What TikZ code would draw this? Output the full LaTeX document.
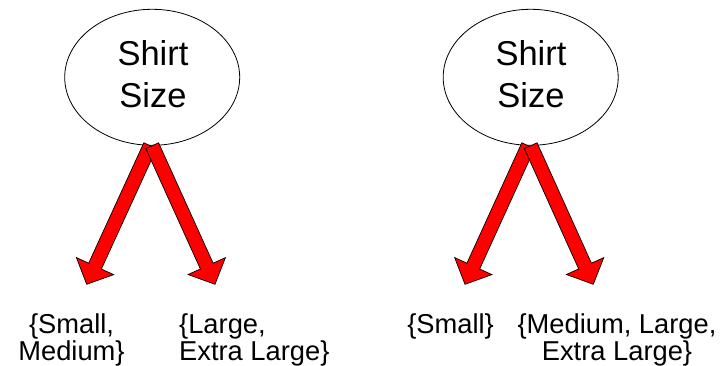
\documentclass[tikz,border=0pt]{standalone}
\usepackage{fontspec}
\setmainfont{Liberation Sans}
\usetikzlibrary{shapes.geometric,calc}
\tikzset{
  bubble/.style={ellipse, draw=black, fill=white, line width=0.8pt,
    minimum width=175pt, minimum height=136pt, inner sep=0pt},
  bigtxt/.style={font=\fontsize{34.5}{42}\selectfont, inner sep=0pt, anchor=base},
  lbl/.style={font=\fontsize{27.3}{27}\selectfont, inner sep=0pt, anchor=base},
  barrow/.style={fill=red, draw=black, line width=0.7pt, line join=miter},
}
\newcommand\blkarrow[2]{%
  \coordinate (hb) at ($(#2)!20pt!(#1)$);
  \draw[barrow] ($(#1)!7pt!90:(#2)$) -- ($(hb)!7pt!90:(#2)$)
    -- ($(hb)!20.5pt!90:(#2)$) -- (#2) -- ($(hb)!20.5pt!-90:(#2)$)
    -- ($(hb)!7pt!-90:(#2)$) -- ($(#1)!7pt!-90:(#2)$) -- cycle;
}
\begin{document}
\begin{tikzpicture}[x=1pt,y=-1pt]
\useasboundingbox (0,0) rectangle (726,366);
\fill[white] (0,0) rectangle (726,366);

% left panel
\node[bubble] (e1) at (152.2,77.3) {};
\node[bigtxt] (s1) at (153,66) {\begin{tabular}[t]{@{}c@{}}Shirt\\Size\end{tabular}};
\coordinate (e1l) at ([xshift=-2pt]e1.south);
\coordinate (e1r) at (e1.south);
\coordinate (tip1a) at (86.7,284.3);
\coordinate (tip1b) at (215,284.3);
\blkarrow{e1l}{tip1a}
\blkarrow{e1r}{tip1b}
\node[lbl] (l1a) at (71.5,333) {\begin{tabular}[t]{@{}c@{}}\{Small,\\Medium\}\end{tabular}};
\node[lbl, anchor=base west] (l1b) at (179,333) {\begin{tabular}[t]{@{}l@{}}\{Large,\\Extra Large\}\end{tabular}};

% right panel
\node[bubble] (e2) at (530.7,77.3) {};
\node[bigtxt] (s2) at (531,66) {\begin{tabular}[t]{@{}c@{}}Shirt\\Size\end{tabular}};
\coordinate (e2l) at ([xshift=-2.5pt]e2.south);
\coordinate (e2r) at (e2.south);
\coordinate (tip2a) at (465,284.3);
\coordinate (tip2b) at (593.3,284.3);
\blkarrow{e2l}{tip2a}
\blkarrow{e2r}{tip2b}
\node[lbl] (l2a) at (450.5,333) {\{Small\}};
\node[lbl] (l2b) at (617,333) {\begin{tabular}[t]{@{}c@{}}\{Medium, Large,\\Extra Large\}\end{tabular}};
\end{tikzpicture}
\end{document}
